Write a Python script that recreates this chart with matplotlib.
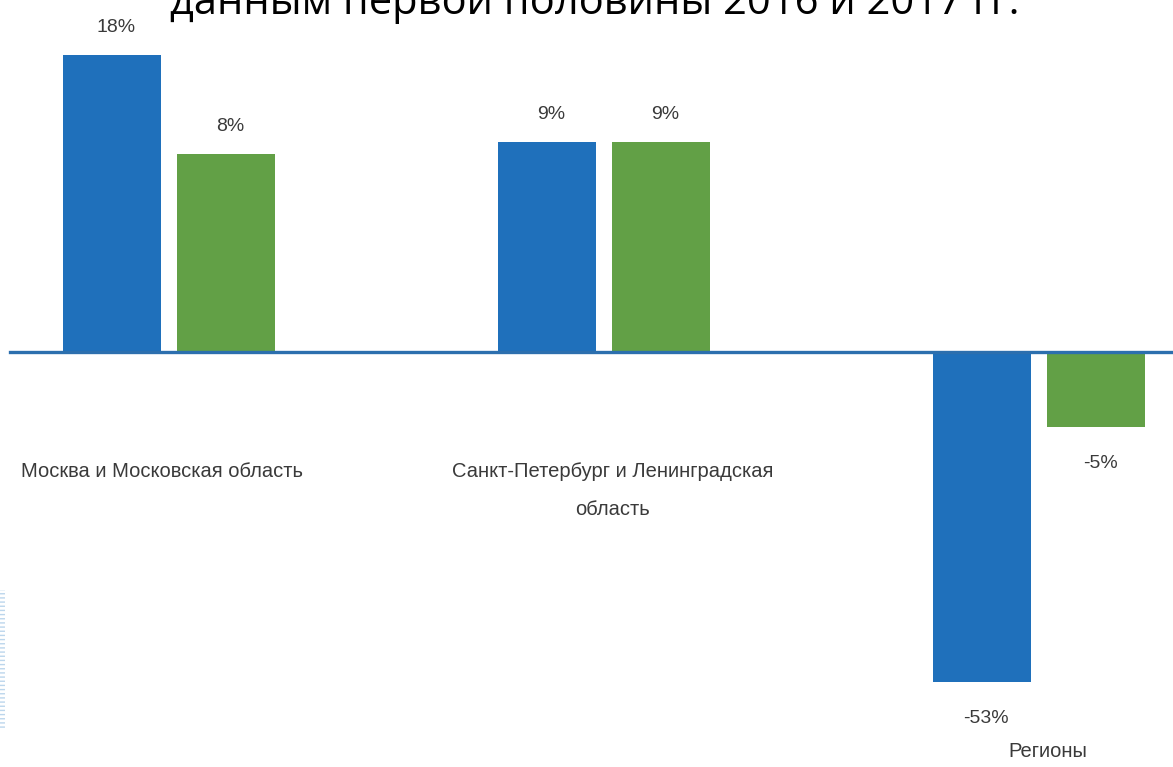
import numpy as np
import matplotlib.pyplot as plt
from matplotlib.patches import Rectangle

# data
regions = ["Москва и Московская область",
           "Санкт-Петербург и Ленинградская\nобласть",
           "Регионы"]
h1_2016 = [18, 9, -53]
h1_2017 = [8, 9, -5]
title = "данным первой половины 2016 и 2017 гг."

blue = "#1f70bb"
green = "#62a046"
text_color = "#3a3a3a"
label_font = ["Liberation Sans", "DejaVu Sans"]


# the source picture is not drawn to a linear scale: positive bars follow
# roughly a square root, negative ones a softer power
def fwd(v):
    v = np.asarray(v, dtype=float)
    return np.where(v >= 0, 70 * np.sqrt(np.abs(v)), -27.3 * np.abs(v) ** 0.628)


def inv(h):
    h = np.asarray(h, dtype=float)
    return np.where(h >= 0, (np.abs(h) / 70) ** 2, -(np.abs(h) / 27.3) ** (1 / 0.628))


fig = plt.figure(figsize=(11.73, 7.67), dpi=100)
ax = fig.add_axes([0, 0, 1, 1])
ax.set_yscale("function", functions=(fwd, inv))
ax.set_ylim(float(inv(-415)), float(inv(352)))
ax.set_xlim(-0.3885, 2.308)
ax.axis("off")

x = np.arange(len(regions))
w = 0.225
off = 0.131
b1 = ax.bar(x - off, h1_2016, w, color=blue, zorder=2)
b2 = ax.bar(x + off, h1_2017, w, color=green, zorder=2)

ax.axhline(0, xmin=10 / 1173, xmax=1, color="#2c6fae", lw=2.4, zorder=3)

for bars, vals in ((b1, h1_2016), (b2, h1_2017)):
    for rect, v in zip(bars, vals):
        cx = rect.get_x() + rect.get_width() / 2
        if v >= 0:
            ax.annotate(f"{v}%", (cx, v), xytext=(3, 14), textcoords="offset points",
                        ha="center", va="bottom", fontsize=14, color=text_color,
                        family=label_font)
        else:
            ax.annotate(f"{v}%", (cx, v), xytext=(3, -20), textcoords="offset points",
                        ha="center", va="top", fontsize=14, color=text_color,
                        family=label_font)

# category labels
ax.text(x[0] - 0.015, 0.398, regions[0], transform=ax.get_xaxis_transform(),
        ha="center", va="top", fontsize=14.5, color=text_color, family=label_font)
ax.text(x[1] + 0.02, 0.398, regions[1], transform=ax.get_xaxis_transform(),
        ha="center", va="top", fontsize=14.5, color=text_color, family=label_font,
        linespacing=2.3, multialignment="center")
ax.text(x[2] + 0.02, 0.008, regions[2], transform=ax.get_xaxis_transform(),
        ha="center", va="bottom", fontsize=14.5, color=text_color, family=label_font)

# title, cut by the top edge as in the source
fig.text(0.507, 1 - 14 / 767, title, ha="center", va="baseline", fontsize=30,
         color="black", family=["Open Sans", "DejaVu Sans"])

# faint hatched strip on the left edge
fig.patches.append(Rectangle((0, 1 - 730 / 767), 5 / 1173, 140 / 767,
                             transform=fig.transFigure, facecolor="none",
                             edgecolor="#bcd6ec", hatch="----", lw=0))

fig.savefig("out.png", dpi=100)
